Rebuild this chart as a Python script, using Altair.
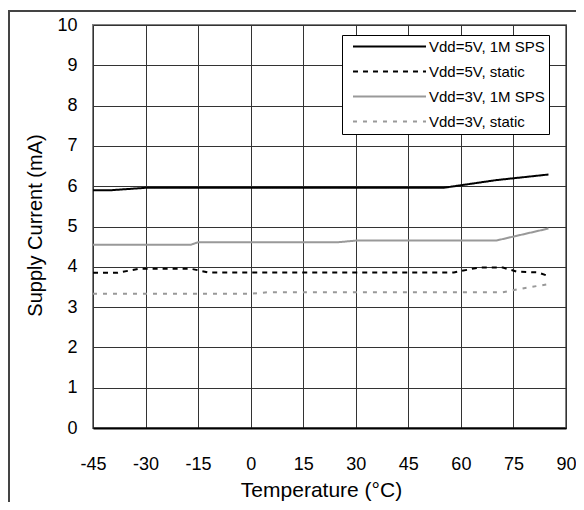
import altair as alt
import pandas as pd

# ---- data ----
series_names = ["Vdd=5V, 1M SPS", "Vdd=5V, static", "Vdd=3V, 1M SPS", "Vdd=3V, static"]

temp_5v_1m = [-45, -40, -30, 55, 70, 85]
cur_5v_1m = [5.90, 5.90, 5.96, 5.96, 6.15, 6.29]

temp_5v_st = [-45, -38, -32, -17, -12, 58, 65, 72, 76, 82, 85]
cur_5v_st = [3.85, 3.85, 3.95, 3.95, 3.86, 3.86, 3.98, 3.98, 3.88, 3.86, 3.77]

temp_3v_1m = [-45, -17, -15, 25, 30, 70, 85]
cur_3v_1m = [4.55, 4.55, 4.61, 4.61, 4.65, 4.65, 4.95]

temp_3v_st = [-45, 0, 5, 72, 78, 85]
cur_3v_st = [3.33, 3.33, 3.37, 3.37, 3.47, 3.57]

x_ticks = [-45, -30, -15, 0, 15, 30, 45, 60, 75, 90]
y_ticks = [0, 1, 2, 3, 4, 5, 6, 7, 8, 9, 10]

# ---- styles ----
colors = ["#000000", "#000000", "#999999", "#999999"]
dashes = [[1, 0], [5, 5], [1, 0], [4, 6]]
widths = [2, 2, 2, 3]

rows = []
for name, ts, cs in zip(series_names,
                        [temp_5v_1m, temp_5v_st, temp_3v_1m, temp_3v_st],
                        [cur_5v_1m, cur_5v_st, cur_3v_1m, cur_3v_st]):
    for t, c in zip(ts, cs):
        rows.append({"series": name, "temp": t, "current": c})
df = pd.DataFrame(rows)

W, H = 473, 403
FONT = "Liberation Sans"

legend = alt.Legend(
    title=None, orient="none", legendX=249, legendY=10, direction="vertical",
    fillColor="white", strokeColor="black", padding=4,
    symbolType="stroke", symbolSize=5329, symbolOffset=6, clipHeight=15,
    labelFont=FONT, labelFontSize=15, labelColor="black", labelOffset=2,
    rowPadding=9, labelLimit=300,
)

lines = alt.Chart(df).mark_line(strokeCap="butt").encode(
    x=alt.X("temp:Q",
            scale=alt.Scale(domain=[-45, 90], nice=False, zero=False),
            axis=alt.Axis(values=x_ticks, title="Temperature (°C)",
                          labelExpr="datum.value + ''",
                          labelFontSize=18, labelFont=FONT, labelColor="black",
                          labelPadding=27, ticks=False, labelFlush=False,
                          domainColor="black", domainWidth=2,
                          grid=True, gridColor="#333333", gridWidth=1,
                          titleFont=FONT, titleFontSize=21, titleFontWeight="normal",
                          titleColor="black", titleX=228, titleY=62,
                          titleBaseline="middle")),
    y=alt.Y("current:Q",
            scale=alt.Scale(domain=[0, 10], nice=False),
            axis=alt.Axis(values=y_ticks, title="Supply Current (mA)",
                          labelExpr="datum.value + ''",
                          labelFontSize=18, labelFont=FONT, labelColor="black",
                          labelPadding=16, ticks=False, domain=False,
                          grid=True, gridColor="#333333", gridWidth=1,
                          titleFont=FONT, titleFontSize=20, titleFontWeight="normal",
                          titleColor="black", titleX=-58, titleY=200,
                          titleBaseline="middle", titleAlign="center")),
    color=alt.Color("series:N", scale=alt.Scale(domain=series_names, range=colors), legend=legend),
    strokeDash=alt.StrokeDash("series:N", scale=alt.Scale(domain=series_names, range=dashes), legend=legend),
    strokeWidth=alt.StrokeWidth("series:N", scale=alt.Scale(domain=series_names, range=widths), legend=legend),
)

frame_df = pd.DataFrame({"k": [0]})
frame_left = alt.Chart(frame_df).mark_rect(color="#444444").encode(
    x=alt.value(-85), x2=alt.value(-83), y=alt.value(-15), y2=alt.value(H + 74))
frame_top = alt.Chart(frame_df).mark_rect(color="#444444").encode(
    x=alt.value(-85), x2=alt.value(W + 10), y=alt.value(-15), y2=alt.value(-13))

chart = alt.layer(lines, frame_left, frame_top).properties(
    width=W, height=H,
    background="white",
    autosize=alt.AutoSizeParams(type="none"),
    padding={"left": 85, "top": 17, "right": 10, "bottom": 74},
).configure_view(
    stroke="#808080", strokeWidth=2
)

chart.save("out.html", embed_options={"renderer": "svg", "actions": False})
